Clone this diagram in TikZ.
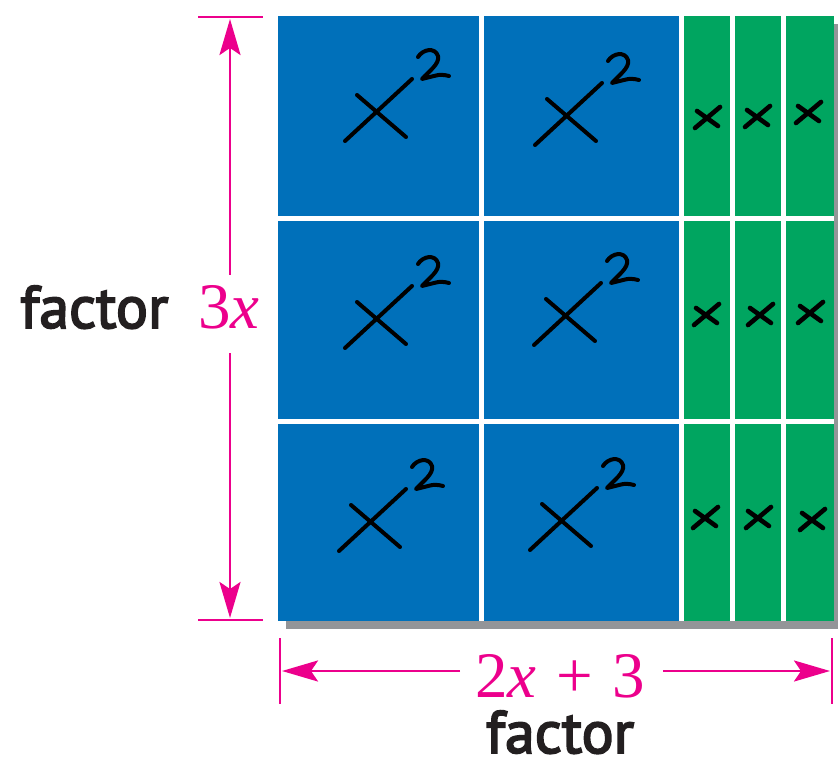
\documentclass[tikz,border=0pt]{standalone}
\usepackage{fontspec}
\setmainfont{PT Sans}
\newfontfamily\wordfont{PT Sans}[FakeBold=3]
\newfontfamily\mathserif{Liberation Serif}
\usetikzlibrary{arrows.meta}
\definecolor{tileblue}{HTML}{0070BA}
\definecolor{tilegreen}{HTML}{00A560}
\definecolor{shadowgray}{HTML}{939598}
\definecolor{dimpink}{HTML}{EC008C}
\definecolor{labelblack}{HTML}{231F20}
\begin{document}
\begin{tikzpicture}[x=1pt,y=-1pt,
  bluetile/.style={fill=tileblue},
  greentile/.style={fill=tilegreen},
  dimline/.style={draw=dimpink, line width=2.8pt},
  dimarrow/.style={dimline, -{Stealth[length=36pt,width=21pt,inset=7pt]}},
  hand/.style={draw=black, line width=4pt, line cap=round, line join=round},
  smallhand/.style={draw=black, line width=4.6pt, line cap=round, line join=round},
  wordlabel/.style={inner sep=0pt, text=labelblack, font=\fontsize{60}{60}\wordfont},
  mathlabel/.style={inner sep=0pt, text=dimpink, font=\fontsize{65}{65}\mathserif},
  xsq/.pic={
    \draw[hand] (-21,-18) -- (28,24);
    \draw[hand] (-33,28) -- (34,-34);
    \draw[hand] (40,-56) .. controls (45,-64) and (57,-66) .. (60,-57)
      .. controls (62,-49) and (50,-41) .. (44,-34) -- (56,-37)
      .. controls (62,-39) and (67,-38) .. (71,-37);
  },
  smallx/.pic={
    \draw[smallhand] (-10,-7) -- (11,8);
    \draw[smallhand] (-12,10) -- (13,-11);
  }
]
\useasboundingbox (0,0) rectangle (838,759);

% shadow and backing
\fill[shadowgray] (286,24) rectangle (838,629);
\fill[white] (278,16) rectangle (834,621);

% tiles
\foreach \ya/\yb in {16/216,221/419,424/621}{
  \fill[bluetile] (278,\ya) rectangle (479,\yb);
  \fill[bluetile] (484,\ya) rectangle (679,\yb);
  \fill[greentile] (684,\ya) rectangle (730,\yb);
  \fill[greentile] (735,\ya) rectangle (781,\yb);
  \fill[greentile] (786,\ya) rectangle (834,\yb);
}

% handwritten x^2
\pic at (378,113) {xsq};
\pic at (568,117) {xsq};
\pic at (378,320) {xsq};
\pic at (567,317) {xsq};
\pic at (372,523) {xsq};
\pic at (563,522) {xsq};

% handwritten x
\pic at (707,118) {smallx};
\pic at (757,117) {smallx};
\pic at (808,113) {smallx};
\pic at (706,315) {smallx};
\pic at (760,315) {smallx};
\pic at (810,313) {smallx};
\pic at (705,518) {smallx};
\pic at (758,518) {smallx};
\pic at (812,520) {smallx};

% vertical dimension
\coordinate (vtickTopL) at (198,17);
\coordinate (vtickTopR) at (263,17);
\coordinate (vtickBotL) at (198,620);
\coordinate (vtickBotR) at (263,620);
\coordinate (vtipTop) at (230,19);
\coordinate (vtipBot) at (230,618);
\coordinate (vgapTop) at (230,275);
\coordinate (vgapBot) at (230,353);
\draw[dimline] (vtickTopL) -- (vtickTopR);
\draw[dimline] (vtickBotL) -- (vtickBotR);
\draw[dimarrow] (vgapTop) -- (vtipTop);
\draw[dimarrow] (vgapBot) -- (vtipBot);
\node[mathlabel, anchor=base] (lab3x) at (229,328) {3{\itshape x}};
\node[wordlabel, anchor=base west] (facLeft) at (20,328) {factor};

% horizontal dimension
\coordinate (htickLT) at (280,638);
\coordinate (htickLB) at (280,704);
\coordinate (htickRT) at (832,638);
\coordinate (htickRB) at (832,704);
\coordinate (htipL) at (282,671);
\coordinate (htipR) at (830,671);
\coordinate (hgapL) at (460,671);
\coordinate (hgapR) at (663,671);
\draw[dimline] (htickLT) -- (htickLB);
\draw[dimline] (htickRT) -- (htickRB);
\draw[dimarrow] (hgapL) -- (htipL);
\draw[dimarrow] (hgapR) -- (htipR);
\node[mathlabel, anchor=base] (lab2x3) at (560,697) {2{\itshape x}\hspace{0.3em}+\hspace{0.3em}3};
\node[wordlabel, anchor=base] (facBottom) at (560,753) {factor};
\end{tikzpicture}
\end{document}
